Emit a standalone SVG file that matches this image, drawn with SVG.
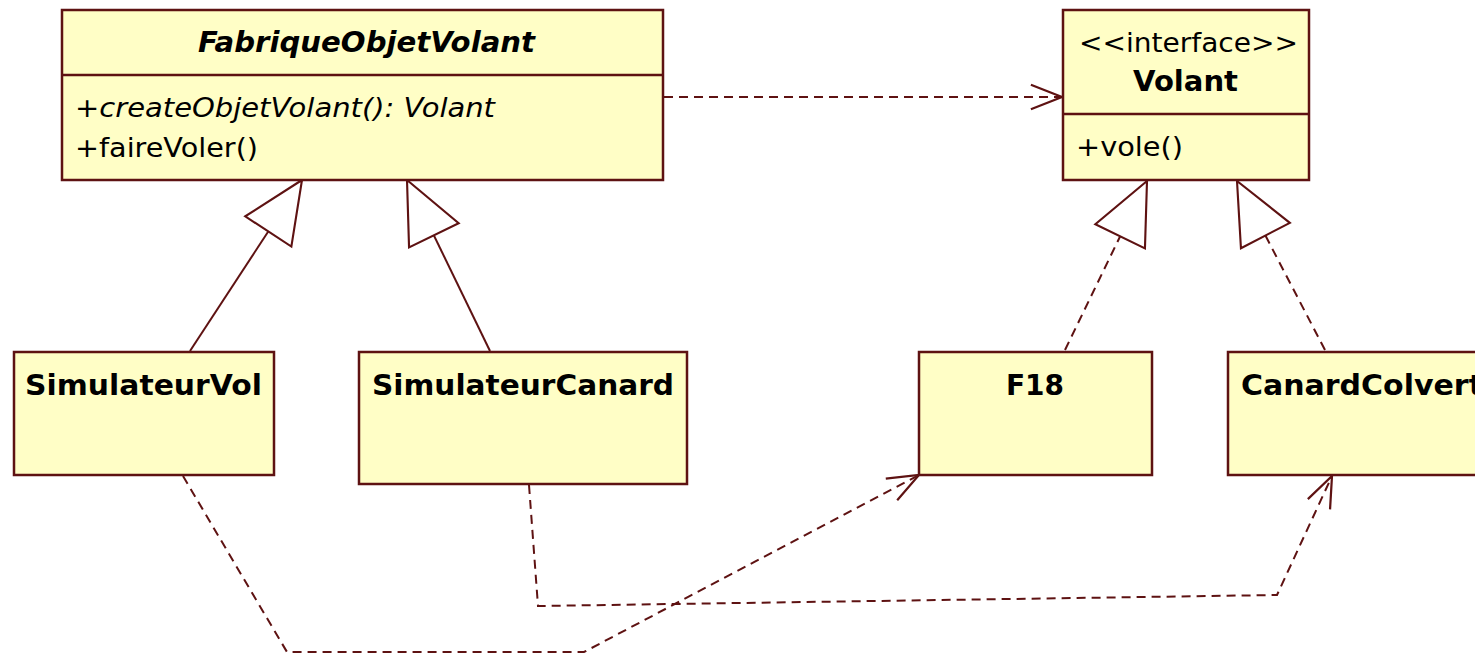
<svg xmlns="http://www.w3.org/2000/svg" width="1475" height="655" viewBox="0 0 1475 655">
<style>
  .box { fill: #fffec6; stroke: #5e1212; stroke-width: 2.5; }
  .div { stroke: #5e1212; stroke-width: 2.5; }
  .t { font-family: "DejaVu Sans", "Liberation Sans", sans-serif; fill: #000; }
  .name { font-weight: bold; font-size: 29px; }
  .op { font-size: 26px; }
  .solid { fill: none; stroke: #5e1212; stroke-width: 2; }
  .dash { fill: none; stroke: #5e1212; stroke-width: 2; stroke-dasharray: 9 6; }
</style>
<defs>
  <marker id="tri" markerUnits="userSpaceOnUse" markerWidth="70" markerHeight="70" viewBox="-62 -32 66 64" refX="0" refY="0" orient="auto">
    <path d="M0,0 L-58,-26 L-58,26 Z" fill="#ffffff" stroke="#5e1212" stroke-width="2" stroke-dasharray="none"/>
  </marker>
  <marker id="open" markerUnits="userSpaceOnUse" markerWidth="40" markerHeight="40" viewBox="-32 -16 36 32" refX="0" refY="0" orient="auto">
    <path d="M-28,-11 L0,0 L-28,11" fill="none" stroke="#5e1212" stroke-width="2" stroke-dasharray="none"/>
  </marker>
</defs>

<g id="connectors">
  <line id="dep-fabrique-volant" class="dash" x1="664" y1="97" x2="1062" y2="97" marker-end="url(#open)"/>
  <line id="gen-simvol" class="solid" x1="190" y1="351" x2="302" y2="180" marker-end="url(#tri)"/>
  <line id="gen-simcanard" class="solid" x1="490" y1="351" x2="407" y2="180" marker-end="url(#tri)"/>
  <line id="real-f18" class="dash" x1="1065" y1="350" x2="1147" y2="181" marker-end="url(#tri)"/>
  <line id="real-canard" class="dash" x1="1325" y1="350" x2="1237" y2="181" marker-end="url(#tri)"/>
  <polyline id="dep-simvol-f18" class="dash" points="183,476 287,652 584,652 919,475" marker-end="url(#open)"/>
  <polyline id="dep-simcanard-canard" class="dash" points="529,485 538,606 1277,595 1332,476" marker-end="url(#open)"/>
</g>

<g id="FabriqueObjetVolant">
  <rect class="box" x="62" y="10" width="601" height="170"/>
  <line class="div" x1="62" y1="75" x2="663" y2="75"/>
  <text class="t name" x="198" y="52" font-style="italic" textLength="337" lengthAdjust="spacingAndGlyphs">FabriqueObjetVolant</text>
  <text class="t op" x="75" y="117" font-style="italic" textLength="420" lengthAdjust="spacingAndGlyphs">+createObjetVolant(): Volant</text>
  <text class="t op" x="75" y="157" textLength="183" lengthAdjust="spacingAndGlyphs">+faireVoler()</text>
</g>

<g id="Volant">
  <rect class="box" x="1063" y="10" width="246" height="170"/>
  <line class="div" x1="1063" y1="114" x2="1309" y2="114"/>
  <text class="t op" x="1079" y="52" textLength="219" lengthAdjust="spacingAndGlyphs">&lt;&lt;interface&gt;&gt;</text>
  <text class="t name" x="1133" y="91" textLength="105" lengthAdjust="spacingAndGlyphs">Volant</text>
  <text class="t op" x="1076" y="156" textLength="107" lengthAdjust="spacingAndGlyphs">+vole()</text>
</g>

<g id="SimulateurVol">
  <rect class="box" x="14" y="352" width="260" height="123"/>
  <text class="t name" x="25" y="395" textLength="237" lengthAdjust="spacingAndGlyphs">SimulateurVol</text>
</g>

<g id="SimulateurCanard">
  <rect class="box" x="359" y="352" width="328" height="132"/>
  <text class="t name" x="372" y="395" textLength="302" lengthAdjust="spacingAndGlyphs">SimulateurCanard</text>
</g>

<g id="F18">
  <rect class="box" x="919" y="352" width="233" height="123"/>
  <text class="t name" x="1006" y="395" textLength="58" lengthAdjust="spacingAndGlyphs">F18</text>
</g>

<g id="CanardColvert">
  <rect class="box" x="1228" y="352" width="300" height="123"/>
  <text class="t name" x="1241" y="395" textLength="242" lengthAdjust="spacingAndGlyphs">CanardColvert</text>
</g>
</svg>
